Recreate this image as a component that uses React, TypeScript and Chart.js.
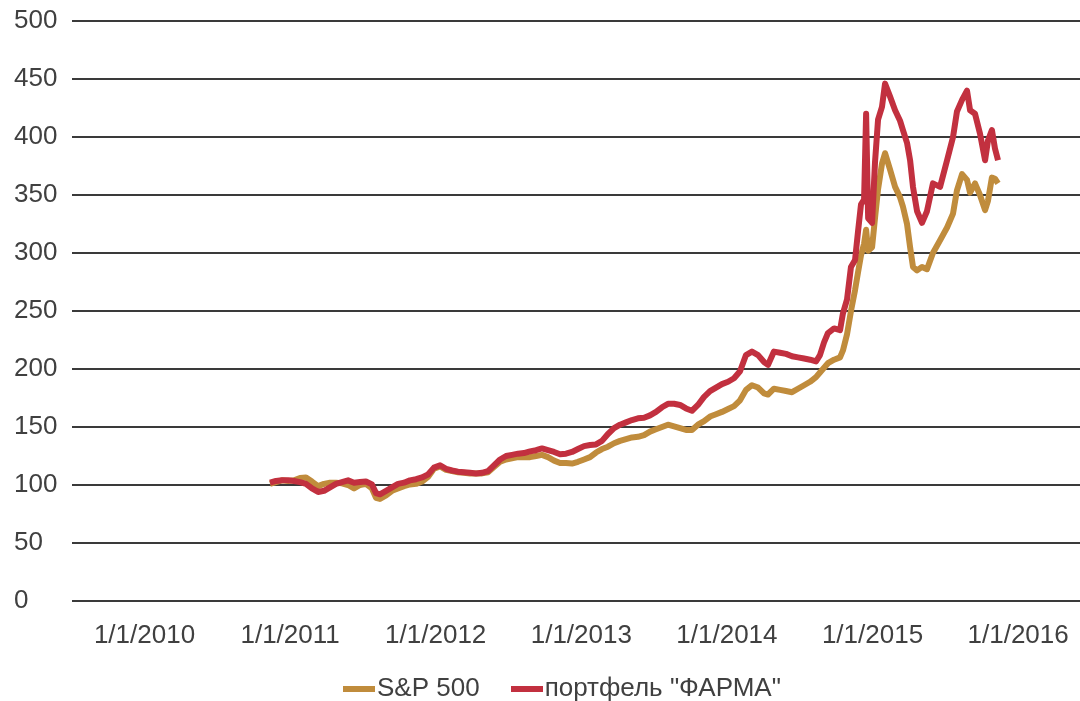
import { useEffect, useRef } from 'react';
import { Chart, registerables } from 'chart.js';

Chart.register(...registerables);

// ---- data (x = fractional year) ----
const dates = [
  2010.862, 2010.903, 2010.944, 2010.986, 2011.027, 2011.068, 2011.109, 2011.15, 2011.192, 2011.233,
  2011.274, 2011.315, 2011.356, 2011.398, 2011.439, 2011.48, 2011.521, 2011.562, 2011.59, 2011.617,
  2011.659, 2011.7, 2011.741, 2011.782, 2011.823, 2011.865, 2011.906, 2011.947, 2011.988, 2012.03,
  2012.071, 2012.112, 2012.153, 2012.194, 2012.236, 2012.277, 2012.318, 2012.359, 2012.4, 2012.442,
  2012.483, 2012.524, 2012.565, 2012.606, 2012.648, 2012.689, 2012.73, 2012.771, 2012.813, 2012.854,
  2012.895, 2012.936, 2012.977, 2013.019, 2013.06, 2013.101, 2013.142, 2013.183, 2013.225, 2013.266,
  2013.307, 2013.348, 2013.389, 2013.431, 2013.472, 2013.513, 2013.554, 2013.595, 2013.637, 2013.678,
  2013.719, 2013.76, 2013.801, 2013.843, 2013.884, 2013.925, 2013.966, 2014.008, 2014.049, 2014.09,
  2014.131, 2014.172, 2014.214, 2014.255, 2014.282, 2014.323, 2014.365, 2014.406, 2014.447, 2014.488,
  2014.53, 2014.571, 2014.612, 2014.639, 2014.667, 2014.694, 2014.736, 2014.777, 2014.797, 2014.825,
  2014.852, 2014.88, 2014.9, 2014.921, 2014.942, 2014.956, 2014.97, 2014.997, 2015.017, 2015.038,
  2015.065, 2015.086, 2015.12, 2015.155, 2015.189, 2015.209, 2015.237, 2015.258, 2015.278, 2015.306,
  2015.34, 2015.374, 2015.415, 2015.464, 2015.512, 2015.553, 2015.58, 2015.615, 2015.649, 2015.67,
  2015.704, 2015.738, 2015.773, 2015.793, 2015.82, 2015.841, 2015.862,
];

const sp500 = [
  101, 102.5, 104, 103.5, 104, 106, 106.5, 103, 99, 101,
  102, 102, 101.5, 100, 97, 100, 101, 97, 89, 88,
  91, 95, 97, 99, 100.5, 101, 103, 107, 114, 116,
  113, 112, 111, 110.5, 110, 110, 110, 111, 115.5, 120,
  122, 123, 124, 124, 124, 125, 126, 124, 121, 119,
  119, 118.5, 120, 122, 124, 128, 131, 133, 136, 138,
  139.5, 141, 141.5, 143, 146, 148, 150, 152, 150.5, 149,
  147.5, 147.5, 152, 155, 159, 161, 163, 165.5, 168, 173,
  182, 186, 184, 179, 178, 183, 182, 181, 180, 183,
  186, 189, 193, 197, 201, 205, 208, 210, 216, 230,
  250, 268, 283, 298, 308, 320, 302, 305, 330, 355,
  377, 386, 372, 357, 348, 340, 325, 305, 288, 285,
  288, 286, 300, 311, 322, 334, 354, 368, 363, 352,
  360, 350, 337, 345, 365, 364, 360,
];

const pharma = [
  102, 103.5, 104, 104, 103.5, 102.5, 101, 97, 94, 95,
  98, 101, 102.5, 104, 102, 102.5, 103, 100.5, 93, 92,
  95, 98, 101, 102, 104, 105, 106.5, 109, 115, 117,
  114, 112.5, 111.5, 111, 110.5, 110, 110.5, 112, 117, 122,
  125, 126, 127, 127.5, 129, 130, 131.5, 130, 128.5, 126.5,
  127, 128.5, 131, 133.5, 134.5, 135, 138, 144, 149, 152,
  154, 156, 157.5, 158, 160, 163, 167, 170, 170, 169,
  166, 164, 169, 176, 181, 184, 187, 189, 192, 198,
  212, 215, 212, 206, 203.5, 215, 214, 213, 211, 210,
  209, 208, 206.5, 212, 223, 231, 235, 233.5, 248, 260,
  288, 294, 318, 342, 346, 420, 330, 326, 378, 415,
  426, 446, 435, 423, 414, 406, 395, 380, 357, 336,
  326, 336, 360, 357, 380, 400, 422, 432, 440, 423,
  420, 403, 380, 397, 406, 390, 380,
];

const seriesNames = ['S&P 500', 'портфель "ФАРМА"'];
const seriesColors = ['#c08c3c', '#c2303f'];
const xTickYears = [2010, 2011, 2012, 2013, 2014, 2015, 2016];
const yMin = 0;
const yMax = 500;
const yStep = 50;

// ---- layout constants ----
const X_MIN = 2009.502;
const X_MAX = 2016.425;
const FONT = "'Liberation Sans', Arial, Helvetica, sans-serif";
const TEXT_COLOR = '#404040';
const LEGEND_PAD = 42;
const LEGEND_START_X = 354;
const LEGEND_CENTER_Y = 689;

function makeSwatch(color: string) {
  const c = document.createElement('canvas');
  c.width = 32;
  c.height = 6;
  const g = c.getContext('2d');
  if (g) {
    g.fillStyle = color;
    g.fillRect(0, 0, 32, 6);
  }
  return c;
}

const legendPlacer = {
  id: 'legendPlacer',
  afterLayout(chart: any) {
    const lg = chart.legend;
    if (!lg || !lg.lineWidths) return;
    const start = (lg.left + LEGEND_PAD + lg.right - lg.lineWidths[0]) / 2;
    const dx = LEGEND_START_X - start;
    lg.left += dx;
    lg.right += dx;
    lg.top = LEGEND_CENTER_Y - LEGEND_PAD - 13;
    lg.bottom = 701;
  },
};

export default function App() {
  const ref = useRef<HTMLCanvasElement | null>(null);

  useEffect(() => {
    if (!ref.current) return;
    Chart.defaults.font.family = FONT;
    const mk = (vals: number[]) => dates.map((d, i) => ({ x: d, y: vals[i] }));
    const chart = new Chart(ref.current, {
      type: 'line',
      data: {
        datasets: [
          {
            label: seriesNames[0],
            data: mk(sp500),
            borderColor: seriesColors[0],
            backgroundColor: seriesColors[0],
            borderWidth: 6,
            pointRadius: 0,
            pointHoverRadius: 0,
            pointStyle: makeSwatch(seriesColors[0]) as any,
            borderJoinStyle: 'round',
            tension: 0,
            order: 1,
          },
          {
            label: seriesNames[1],
            data: mk(pharma),
            borderColor: seriesColors[1],
            backgroundColor: seriesColors[1],
            borderWidth: 6,
            pointRadius: 0,
            pointHoverRadius: 0,
            pointStyle: makeSwatch(seriesColors[1]) as any,
            borderJoinStyle: 'round',
            tension: 0,
            order: 0,
          },
        ],
      },
      options: {
        animation: false,
        responsive: false,
        layout: { padding: { left: 14, right: 0, top: 21, bottom: 0 } },
        scales: {
          x: {
            type: 'linear',
            min: X_MIN,
            max: X_MAX,
            grid: { display: false, drawTicks: true, tickLength: 19 },
            border: { display: false },
            ticks: {
              padding: 0,
              autoSkip: false,
              maxRotation: 0,
              font: { size: 26, family: FONT },
              color: TEXT_COLOR,
              callback: (v: any) => '1/1/' + v,
            },
            afterBuildTicks: (s: any) => {
              s.ticks = xTickYears.map((v) => ({ value: v }));
            },
            afterFit: (s: any) => {
              s.height = 50;
            },
          },
          y: {
            min: yMin,
            max: yMax,
            ticks: {
              stepSize: yStep,
              padding: 0,
              crossAlign: 'far',
              font: { size: 26, family: FONT },
              color: TEXT_COLOR,
            },
            grid: { color: '#3a3a3a', lineWidth: 2, drawTicks: false },
            border: { display: false },
            afterFit: (s: any) => {
              s.width = 58;
            },
          },
        },
        plugins: {
          legend: {
            position: 'bottom',
            maxHeight: 50,
            labels: {
              usePointStyle: true,
              pointStyleWidth: 10,
              padding: LEGEND_PAD,
              font: { size: 26, family: FONT },
              color: TEXT_COLOR,
              sort: (a: any, b: any) => a.datasetIndex - b.datasetIndex,
            },
          },
          tooltip: { enabled: false },
        },
      } as any,
      plugins: [legendPlacer],
    });
    return () => chart.destroy();
  }, []);

  return (
    <div style={{ position: 'absolute', left: 0, top: 0, width: 1080, height: 701, background: '#fff' }}>
      <canvas ref={ref} width={1080} height={701} style={{ display: 'block' }} />
    </div>
  );
}
